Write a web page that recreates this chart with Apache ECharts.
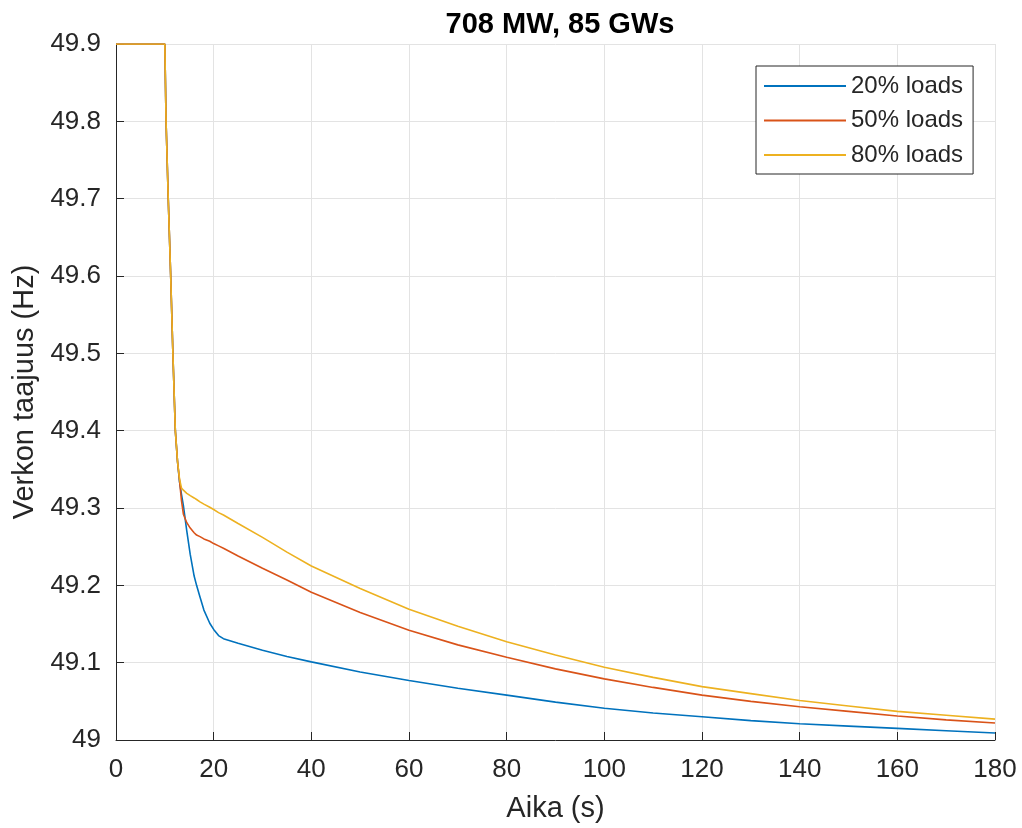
<!DOCTYPE html>
<html>
<head>
<meta charset="utf-8">
<script src="https://cdn.jsdelivr.net/npm/echarts@6/dist/echarts.min.js"></script>
<style>
  html, body { margin: 0; padding: 0; background: #fff; }
  #chart { width: 1022px; height: 828px; }
</style>
</head>
<body>
<div id="chart"></div>
<script>
// aika (s)
var time = [0, 10, 10.25, 10.7, 11.2, 11.65, 12.15, 12.6, 13, 13.4, 13.8, 14.5, 15.2, 16, 16.5, 17.2, 18, 19.2, 20, 21, 22, 25, 30, 35, 40, 50, 60, 70, 80, 90, 100, 110, 120, 130, 140, 150, 160, 170, 180]

// verkon taajuus (Hz)
var loads20 = [49.9, 49.9, 49.8, 49.7, 49.6, 49.5, 49.4, 49.36, 49.334, 49.318, 49.303, 49.27, 49.24, 49.212, 49.2, 49.185, 49.168, 49.151, 49.143, 49.135, 49.131, 49.125, 49.116, 49.108, 49.101, 49.088, 49.077, 49.067, 49.058, 49.049, 49.041, 49.035, 49.03, 49.025, 49.021, 49.018, 49.015, 49.012, 49.009]
var loads50 = [49.9, 49.9, 49.8, 49.7, 49.6, 49.5, 49.4, 49.36, 49.336, 49.31, 49.292, 49.281, 49.274, 49.268, 49.265, 49.263, 49.26, 49.257, 49.254, 49.251, 49.248, 49.238, 49.222, 49.207, 49.191, 49.165, 49.142, 49.123, 49.107, 49.092, 49.079, 49.068, 49.058, 49.05, 49.043, 49.037, 49.031, 49.026, 49.022]
var loads80 = [49.9, 49.9, 49.8, 49.7, 49.6, 49.5, 49.4, 49.36, 49.338, 49.326, 49.323, 49.319, 49.316, 49.313, 49.311, 49.308, 49.305, 49.301, 49.298, 49.294, 49.291, 49.28, 49.262, 49.243, 49.225, 49.196, 49.169, 49.147, 49.127, 49.11, 49.094, 49.081, 49.069, 49.06, 49.051, 49.044, 49.037, 49.032, 49.027]

var names = ['20% loads', '50% loads', '80% loads']
var colors = ['#0072BD', '#D95319', '#EDB120']

function pairs(vals) {
  return time.map(function (t, i) { return [t, vals[i]] })
}

var font = 'Liberation Sans, Arial, Helvetica, sans-serif'
var chart = echarts.init(document.getElementById('chart'))

chart.setOption({
  animation: false,
  textStyle: { fontFamily: font },
  title: {
    text: '708 MW, 85 GWs',
    left: 555,
    textAlign: 'center',
    top: 5,
    textStyle: { fontSize: 29, fontWeight: 'bold', color: '#000', fontFamily: font }
  },
  grid: { left: 116, right: 27, top: 44, bottom: 88 },
  legend: {
    data: names,
    orient: 'vertical',
    left: 756,
    top: 66,
    padding: [8, 10, 7, 8],
    icon: 'rect',
    itemWidth: 82,
    itemHeight: 2,
    itemGap: 10.5,
    borderColor: '#262626',
    borderWidth: 1,
    backgroundColor: '#fff',
    textStyle: { fontSize: 24, lineHeight: 24, color: '#262626', fontFamily: font }
  },
  xAxis: {
    type: 'value',
    min: 0,
    max: 180,
    interval: 20,
    name: 'Aika (s)',
    nameLocation: 'middle',
    nameGap: 54,
    nameTextStyle: { fontSize: 29, color: '#262626' },
    axisLine: { lineStyle: { color: '#262626', width: 1 } },
    axisTick: { inside: true, length: 8, lineStyle: { color: '#262626' } },
    axisLabel: { fontSize: 26, color: '#262626', margin: 17 },
    splitLine: { show: true, lineStyle: { color: '#e3e3e3', width: 1 } }
  },
  yAxis: {
    type: 'value',
    min: 49,
    max: 49.9,
    interval: 0.1,
    name: 'Verkon taajuus (Hz)',
    nameLocation: 'middle',
    nameGap: 77,
    nameTextStyle: { fontSize: 29, color: '#262626' },
    axisLine: { show: true, lineStyle: { color: '#262626', width: 1 } },
    axisTick: { show: true, inside: true, length: 8, lineStyle: { color: '#262626' } },
    axisLabel: {
      fontSize: 26,
      color: '#262626',
      margin: 15,
      formatter: function (v) { return String(Math.round(v * 10) / 10) }
    },
    splitLine: { show: true, lineStyle: { color: '#e3e3e3', width: 1 } }
  },
  series: [loads20, loads50, loads80].map(function (vals, i) {
    return {
      name: names[i],
      type: 'line',
      symbol: 'none',
      data: pairs(vals),
      lineStyle: { color: colors[i], width: 1.6 },
      itemStyle: { color: colors[i] }
    }
  })
})
</script>
</body>
</html>
